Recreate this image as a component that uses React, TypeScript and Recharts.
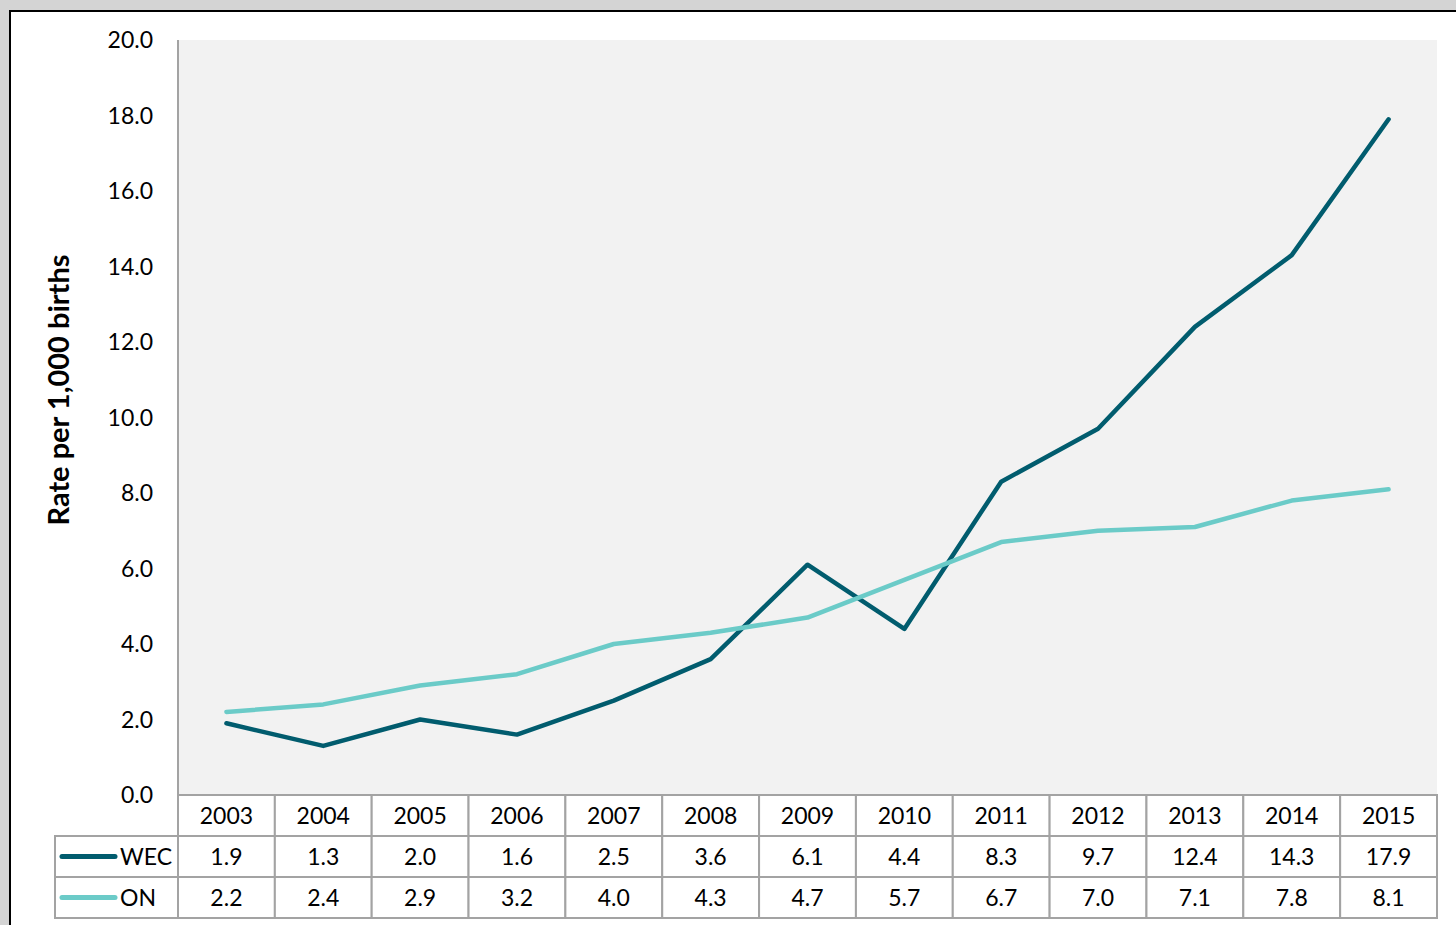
import React from 'react';
import { LineChart, Line, XAxis, YAxis, CartesianGrid } from 'recharts';

const years = ['2003', '2004', '2005', '2006', '2007', '2008', '2009', '2010', '2011', '2012', '2013', '2014', '2015'];
const wec = [1.9, 1.3, 2.0, 1.6, 2.5, 3.6, 6.1, 4.4, 8.3, 9.7, 12.4, 14.3, 17.9];
const on = [2.2, 2.4, 2.9, 3.2, 4.0, 4.3, 4.7, 5.7, 6.7, 7.0, 7.1, 7.8, 8.1];
const yTicks = [0, 2, 4, 6, 8, 10, 12, 14, 16, 18, 20];

const series = [
    { key: 'WEC', values: wec, color: '#015c6e' },
    { key: 'ON', values: on, color: '#6bcbc8' },
];

const data = years.map((year, i) => ({ year, WEC: wec[i], ON: on[i] }));

const FONT = 'Lato, "Noto Sans", sans-serif';
const PLOT_LEFT = 178;
const PLOT_RIGHT = 1437;
const CELL_W = (PLOT_RIGHT - PLOT_LEFT) / years.length;
const ROW_H = 41;
const LEGEND_LEFT = 55;
const BORDER = '#a3a3a3';
const TXT = 23;

const TableTick = (props: any) => {
    const { x, y, payload } = props;
    const i = payload.index;
    const left = x - CELL_W / 2;
    return (
        <g>
            {/* header cell */}
            <rect x={left} y={y} width={CELL_W} height={ROW_H} fill="#fff" stroke={BORDER} strokeWidth={2} />
            <text x={x} y={y + ROW_H / 2 + 8} textAnchor="middle" fontSize={TXT} fontFamily={FONT} fill="#000">
                {payload.value}
            </text>
            {series.map((s, r) => (
                <g key={s.key}>
                    <rect x={left} y={y + ROW_H * (r + 1)} width={CELL_W} height={ROW_H} fill="#fff" stroke={BORDER} strokeWidth={2} />
                    <text x={x} y={y + ROW_H * (r + 1) + ROW_H / 2 + 8} textAnchor="middle" fontSize={TXT} fontFamily={FONT} fill="#000">
                        {s.values[i].toFixed(1)}
                    </text>
                </g>
            ))}
            {i === 0 &&
                series.map((s, r) => (
                    <g key={'lg' + s.key}>
                        <rect x={LEGEND_LEFT} y={y + ROW_H * (r + 1)} width={left - LEGEND_LEFT} height={ROW_H} fill="#fff" stroke={BORDER} strokeWidth={2} />
                        <line x1={LEGEND_LEFT + 7} x2={LEGEND_LEFT + 60} y1={y + ROW_H * (r + 1) + ROW_H / 2} y2={y + ROW_H * (r + 1) + ROW_H / 2} stroke={s.color} strokeWidth={5} strokeLinecap="round" />
                        <text x={LEGEND_LEFT + 65} y={y + ROW_H * (r + 1) + ROW_H / 2 + 8} fontSize={TXT} fontFamily={FONT} fill="#000">
                            {s.key}
                        </text>
                    </g>
                ))}
        </g>
    );
};

const YLabel = () => (
    <text x={57} y={390} transform="rotate(-90 57 390)" textAnchor="middle" dominantBaseline="central" fontSize={29} fontWeight="bold" fontFamily={FONT} fill="#000">
        Rate per 1,000 births
    </text>
);

const App: React.FC = () => {
    return (
        <div style={{ position: 'fixed', left: 0, top: 0, width: 1456, height: 925, background: '#d4d4d4', overflow: 'hidden' }}>
            <div style={{ position: 'absolute', left: 9, top: 10, width: 1500, height: 1000, background: '#fff', borderTop: '2px solid #000', borderLeft: '2px solid #000' }} />
            <div style={{ position: 'absolute', left: 0, top: 0 }}>
                <LineChart width={1456} height={925} data={data} margin={{ top: 40, right: 1456 - PLOT_RIGHT, bottom: 7, left: 0 }}>
                    <CartesianGrid horizontal={false} vertical={false} fill="#f2f2f2" stroke="none" />
                    <XAxis
                        dataKey="year"
                        height={123}
                        interval={0}
                        axisLine={false}
                        tickLine={false}
                        tickSize={0}
                        tickMargin={0}
                        padding={{ left: CELL_W / 2, right: CELL_W / 2 }}
                        tick={<TableTick />}
                    />
                    <YAxis
                        width={PLOT_LEFT}
                        domain={[0, 20]}
                        ticks={yTicks}
                        interval={0}
                        tickFormatter={(v: number) => v.toFixed(1)}
                        tickLine={false}
                        tickSize={0}
                        tickMargin={25}
                        axisLine={{ stroke: BORDER, strokeWidth: 2 }}
                        tick={{ fontSize: TXT, fontFamily: FONT, fill: '#000' }}
                        label={<YLabel />}
                    />
                    {series.map((s) => (
                        <Line
                            key={s.key}
                            type="linear"
                            dataKey={s.key}
                            stroke={s.color}
                            strokeWidth={4.5}
                            strokeLinecap="round"
                            strokeLinejoin="round"
                            dot={false}
                            activeDot={false}
                            isAnimationActive={false}
                        />
                    ))}
                </LineChart>
            </div>
        </div>
    );
};

export default App;
